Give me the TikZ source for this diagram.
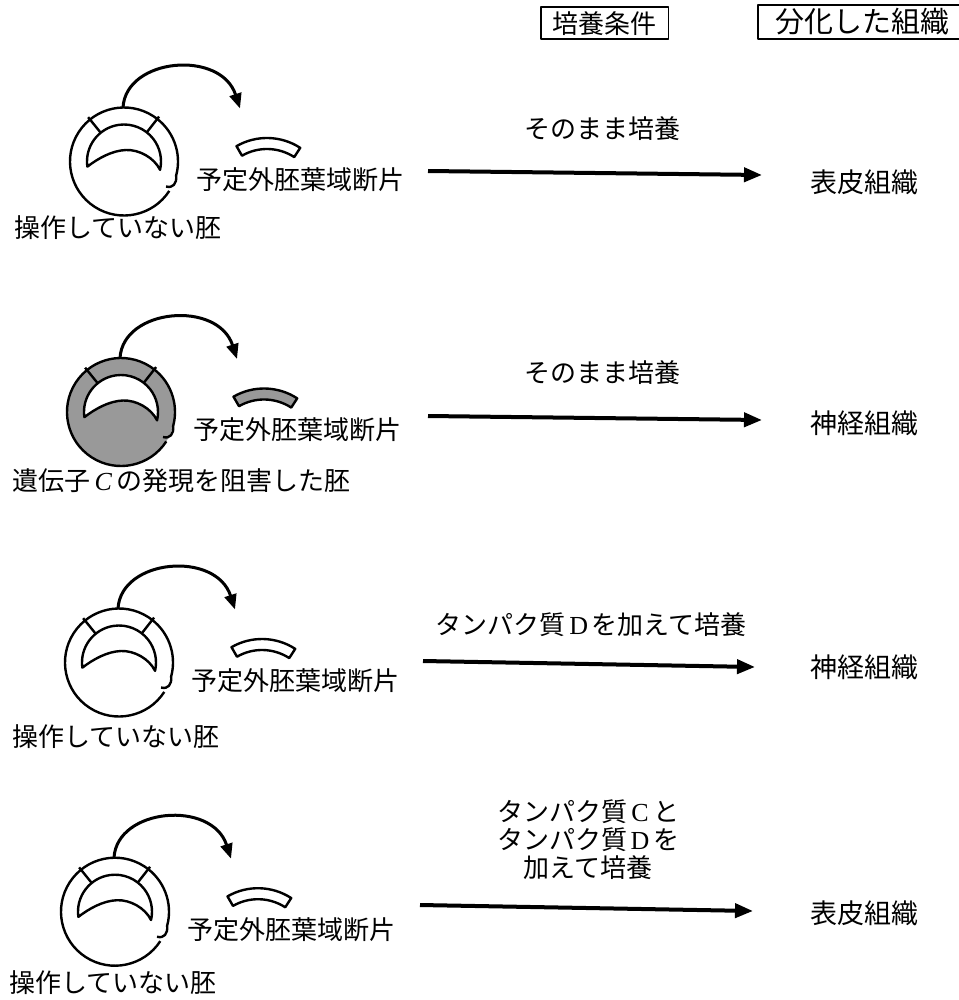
\documentclass[tikz,border=0pt]{standalone}
\usepackage{fontspec}
\newfontfamily\jp{Noto Sans CJK JP}
\newfontfamily\ser{Liberation Serif}
\usetikzlibrary{arrows.meta}
\begin{document}
\begin{tikzpicture}[x=1pt,y=-1pt,line join=round,
  emline/.style={line width=2.4pt},
  emarrow/.style={line width=3pt,-{Triangle[length=15pt,width=12pt]}},
  bigarrow/.style={line width=4pt,-{Triangle[length=18pt,width=14pt]}},
  lab/.style={font=\jp\fontsize{26}{28}\selectfont,inner sep=0pt},
  hdr/.style={lab,draw,line width=1.6pt},
  pics/embryo/.style={code={
    \fill[#1,even odd rule] (0,0) circle[radius=54]
      (-188:37) arc[start angle=-188,end angle=13,radius=37]
      .. controls (30,-4) and (15,-12) .. (2,-11.5)
      .. controls (-12,-11) and (-26,-3) .. (-188:37) -- cycle;
    \draw[emline] (33:54) arc[start angle=33,end angle=375,radius=54]
      .. controls (53,22) and (49,27) .. (42,25);
    \draw[emline] (-188:37) arc[start angle=-188,end angle=13,radius=37]
      .. controls (30,-4) and (15,-12) .. (2,-11.5)
      .. controls (-12,-11) and (-26,-3) .. (-188:37) -- cycle;
    \draw[emline] (-129:37) -- (-129:57) (-52:37) -- (-52:57);
    \coordinate (-top) at (-1,-54);
    \coordinate (-tip) at (116,-53);
    \draw[emarrow] (-top) .. controls (2,-104) and (97,-112) .. (-tip);
    \begin{scope}[shift={(143,37.5)}]
      \filldraw[emline,fill=#1] (-57:61) arc[start angle=-57,end angle=-120,radius=61]
        -- (-120:50) arc[start angle=-120,end angle=-57,radius=50] -- cycle;
    \end{scope}
    \node[lab] (-lab) at (176,18) {予定外胚葉域断片};
  }}]
\useasboundingbox (0,0) rectangle (958,1000);
\fill[white] (0,0) rectangle (958,1000);

% headers
\node[hdr,minimum width=127.6pt,minimum height=32pt] (h1) at (604.5,23.3) {培養条件};
\node[lab,font=\jp\fontsize{29}{30}\selectfont] (h2) at (862,22) {分化した組織};
\coordinate (h2a) at (758,5); \coordinate (h2b) at (962,39);
\draw[line width=1.6pt] (h2a) rectangle (h2b);

% embryos
\pic (e1) at (124,161.5) {embryo=white};
\pic (e2) at (121,412) {embryo=black!40};
\pic (e3) at (119,662.5) {embryo=white};
\pic (e4) at (115,911.7) {embryo=white};

\node[lab,anchor=west] (l1) at (14,228) {操作していない胚};
\node[lab,anchor=west] (l2) at (12,481) {遺伝子\makebox[1em]{\ser\itshape C}の発現を阻害した胚};
\node[lab,anchor=west] (l3) at (12,737) {操作していない胚};
\node[lab,anchor=west] (l4) at (9,983) {操作していない胚};

% conditions
\node[lab] (c1) at (602,129) {そのまま培養};
\node[lab] (c2) at (602,373) {そのまま培養};
\node[lab] (c3) at (591,625) {タンパク質\makebox[1em]{\ser D}を加えて培養};
\node[lab,align=center] (c4) at (588,840) {タンパク質\makebox[1em]{\ser C}と\\タンパク質\makebox[1em]{\ser D}を\\加えて培養};

% arrows
\coordinate (a1s) at (428,171); \coordinate (a1e) at (762,175);
\coordinate (a2s) at (428,416); \coordinate (a2e) at (762,420);
\coordinate (a3s) at (423,661); \coordinate (a3e) at (755,667);
\coordinate (a4s) at (420,905); \coordinate (a4e) at (753,911);
\draw[bigarrow] (a1s) -- (a1e);
\draw[bigarrow] (a2s) -- (a2e);
\draw[bigarrow] (a3s) -- (a3e);
\draw[bigarrow] (a4s) -- (a4e);

% results
\node[lab,font=\jp\fontsize{27}{28}\selectfont] (r1) at (864,182) {表皮組織};
\node[lab,font=\jp\fontsize{27}{28}\selectfont] (r2) at (864,423) {神経組織};
\node[lab,font=\jp\fontsize{27}{28}\selectfont] (r3) at (864,667) {神経組織};
\node[lab,font=\jp\fontsize{27}{28}\selectfont] (r4) at (864,913) {表皮組織};
\end{tikzpicture}
\end{document}
